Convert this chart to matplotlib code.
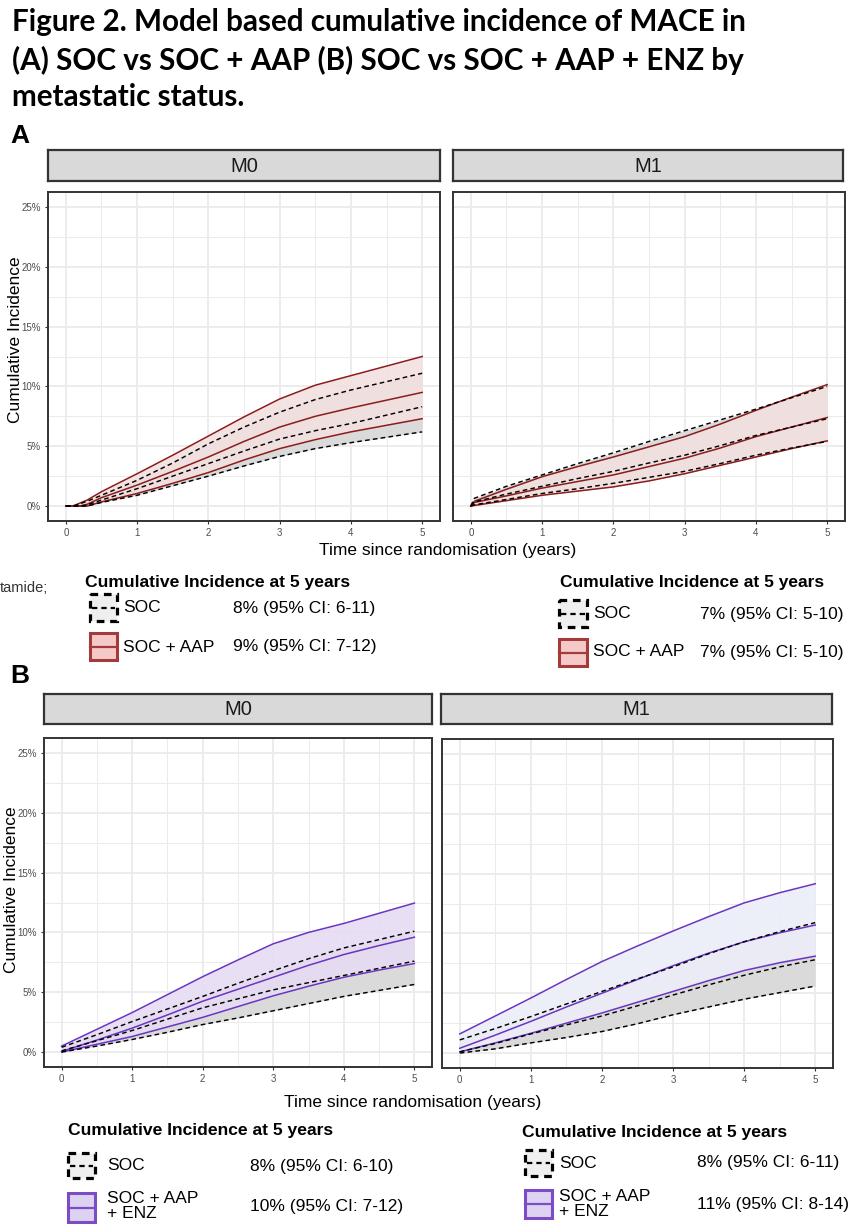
import matplotlib
matplotlib.use('Agg')
import matplotlib.pyplot as plt
from matplotlib.patches import Rectangle
from matplotlib import font_manager
import numpy as np

# ---------------- data ----------------
# Panel A, M0
a_m0_time = [0, 0.1, 0.2, 0.3, 0.5, 1, 1.5, 2, 2.5, 3, 3.5, 4, 4.5, 5]
a_m0_aap_hi = [0, 0, 0.25, 0.5, 1.2, 2.7, 4.25, 5.85, 7.45, 8.95, 10.1, 10.9, 11.7, 12.5]
a_m0_aap_mid = [0, 0, 0, 0.15, 0.7, 1.75, 2.9, 4.1, 5.4, 6.6, 7.5, 8.2, 8.85, 9.5]
a_m0_aap_lo = [0, 0, 0, 0, 0.35, 1.05, 1.9, 2.8, 3.85, 4.8, 5.55, 6.2, 6.75, 7.3]
a_m0_soc_hi = [0, 0, 0.2, 0.4, 0.9, 2.15, 3.6, 5.2, 6.6, 7.85, 8.9, 9.7, 10.4, 11.1]
a_m0_soc_mid = [0, 0, 0, 0.1, 0.5, 1.45, 2.5, 3.55, 4.6, 5.6, 6.3, 6.9, 7.6, 8.3]
a_m0_soc_lo = [0, 0, 0, 0, 0.3, 0.9, 1.7, 2.5, 3.35, 4.15, 4.8, 5.3, 5.75, 6.2]

# Panel A, M1
a_m1_time = [0, 0.05, 0.5, 1, 1.5, 2, 2.5, 3, 3.5, 4, 4.5, 5]
a_m1_aap_hi = [0, 0.4, 1.4, 2.45, 3.3, 4.1, 4.95, 5.8, 6.85, 8.0, 9.1, 10.15]
a_m1_aap_mid = [0, 0.3, 0.85, 1.5, 2.05, 2.6, 3.3, 4.0, 4.85, 5.8, 6.6, 7.4]
a_m1_aap_lo = [0, 0.05, 0.45, 0.9, 1.25, 1.6, 2.1, 2.7, 3.4, 4.1, 4.8, 5.45]
a_m1_soc_hi = [0, 0.65, 1.65, 2.6, 3.55, 4.45, 5.4, 6.3, 7.2, 8.1, 9.05, 10.0]
a_m1_soc_mid = [0, 0.35, 1.0, 1.65, 2.3, 2.9, 3.6, 4.25, 5.05, 5.9, 6.6, 7.3]
a_m1_soc_lo = [0, 0.1, 0.55, 1.05, 1.45, 1.9, 2.4, 2.9, 3.55, 4.25, 4.85, 5.4]

# Panel B, M0
b_m0_time = [0, 0.5, 1, 1.5, 2, 2.5, 3, 3.5, 4, 4.5, 5]
b_m0_enz_hi = [0.5, 1.9, 3.3, 4.8, 6.3, 7.7, 9.05, 10.0, 10.75, 11.6, 12.45]
b_m0_enz_mid = [0.05, 1.0, 2.0, 3.1, 4.25, 5.25, 6.25, 7.25, 8.15, 8.9, 9.6]
b_m0_enz_lo = [0, 0.65, 1.3, 2.1, 2.9, 3.8, 4.7, 5.5, 6.25, 6.85, 7.4]
b_m0_soc_hi = [0.4, 1.45, 2.55, 3.6, 4.65, 5.75, 6.8, 7.8, 8.7, 9.4, 10.1]
b_m0_soc_mid = [0.1, 0.95, 1.8, 2.75, 3.7, 4.45, 5.2, 5.8, 6.4, 7.0, 7.6]
b_m0_soc_lo = [0, 0.5, 1.05, 1.65, 2.3, 2.85, 3.45, 4.05, 4.65, 5.15, 5.65]

# Panel B, M1
b_m1_time = [0, 0.5, 1, 1.5, 2, 2.5, 3, 3.5, 4, 4.5, 5]
b_m1_enz_hi = [1.6, 3.1, 4.6, 6.15, 7.65, 8.95, 10.2, 11.4, 12.55, 13.4, 14.15]
b_m1_enz_mid = [0.4, 1.5, 2.65, 3.85, 5.0, 6.15, 7.3, 8.35, 9.3, 10.05, 10.7]
b_m1_enz_lo = [0.1, 0.85, 1.65, 2.5, 3.35, 4.25, 5.15, 6.05, 6.9, 7.55, 8.1]
b_m1_soc_hi = [1.1, 2.05, 3.05, 4.1, 5.15, 6.2, 7.2, 8.3, 9.3, 10.15, 10.9]
b_m1_soc_mid = [0.1, 0.8, 1.6, 2.35, 3.1, 3.95, 4.85, 5.7, 6.5, 7.2, 7.8]
b_m1_soc_lo = [0, 0.35, 0.85, 1.3, 1.8, 2.45, 3.2, 3.85, 4.5, 5.05, 5.6]

x_ticks = [0, 1, 2, 3, 4, 5]
y_ticks = [0, 5, 10, 15, 20, 25]
y_tick_labels = ['0%', '5%', '10%', '15%', '20%', '25%']
facets = ['M0', 'M1']

title_lines = ['Figure 2. Model based cumulative incidence of MACE in',
               '(A) SOC vs SOC + AAP (B) SOC vs SOC + AAP + ENZ by',
               'metastatic status.']
legend_title = 'Cumulative Incidence at 5 years'
a_labels = ['SOC', 'SOC + AAP']
a_m0_values = ['8% (95% CI: 6-11)', '9% (95% CI: 7-12)']
a_m1_values = ['7% (95% CI: 5-10)', '7% (95% CI: 5-10)']
b_labels = ['SOC', 'SOC + AAP\n+ ENZ']
b_m0_values = ['8% (95% CI: 6-10)', '10% (95% CI: 7-12)']
b_m1_values = ['8% (95% CI: 6-11)', '11% (95% CI: 8-14)']

# ---------------- styling ----------------
W, H = 859, 1229
fig = plt.figure(figsize=(W / 100, H / 100), dpi=100)
fig.patch.set_facecolor('white')


def has_font(name):
    try:
        font_manager.findfont(name, fallback_to_default=False)
        return True
    except Exception:
        return False


SANS = 'Liberation Sans'
NARROW = 'Liberation Sans Narrow' if has_font('Liberation Sans Narrow') else SANS
TITLE_FONT = 'Lato' if has_font('Lato') else 'DejaVu Sans'

RED = '#8b1c1c'
PURPLE = '#6a35c0'
GRID = '#ebebeb'
BORDER = '#333333'

renderer = fig.canvas.get_renderer()


def px_axes(l, t, r, b, **kw):
    return fig.add_axes([l / W, 1 - b / H, (r - l) / W, (b - t) / H], **kw)


def fit_width(txt, target):
    bb = txt.get_window_extent(renderer)
    txt.set_fontsize(txt.get_fontsize() * target / bb.width)


def panel(box, t, trt_hi, trt_mid, trt_lo, soc_hi, soc_mid, soc_lo,
          line_col, fill_col, fill_alpha, show_y):
    ax = px_axes(*box)
    ax.set_xlim(-0.25, 5.25)
    ax.set_ylim(-1.25, 26.25)
    ax.set_xticks(x_ticks)
    ax.set_xticklabels([str(v) for v in x_ticks])
    ax.set_yticks(y_ticks)
    ax.set_xticks(np.arange(0.5, 5, 1), minor=True)
    ax.set_yticks(np.arange(2.5, 25, 5), minor=True)
    ax.grid(which='major', color=GRID, lw=1.3)
    ax.grid(which='minor', color=GRID, lw=0.7)
    ax.set_axisbelow(True)
    ax.tick_params(which='minor', length=0)
    ax.tick_params(which='major', length=2.5, width=0.8, color=BORDER,
                   labelsize=7, labelcolor='#4d4d4d', pad=2.5)
    if show_y:
        ax.set_yticklabels(y_tick_labels)
    else:
        ax.set_yticklabels([])
        ax.tick_params(axis='y', length=0)
    for lab in ax.get_xticklabels() + ax.get_yticklabels():
        lab.set_family(NARROW)
    for s in ax.spines.values():
        s.set_color(BORDER)
        s.set_linewidth(1.4)
    ax.fill_between(t, soc_lo, soc_hi, color='#dadada', lw=0, zorder=1)
    ax.fill_between(t, trt_lo, trt_hi, color=fill_col, alpha=fill_alpha, lw=0, zorder=2)
    for yv in (trt_hi, trt_mid, trt_lo):
        ax.plot(t, yv, color=line_col, lw=1.1, zorder=3)
    for yv in (soc_hi, soc_mid, soc_lo):
        ax.plot(t, yv, color='black', lw=1.05, ls=(0, (3.2, 2.2)), zorder=4)
    return ax


def strip(box, label):
    ax = px_axes(*box)
    ax.set_facecolor('#d9d9d9')
    ax.set_xticks([])
    ax.set_yticks([])
    for s in ax.spines.values():
        s.set_color(BORDER)
        s.set_linewidth(1.6)
    ax.text(0.5, 0.48, label, ha='center', va='center', fontsize=14.5,
            family=NARROW, color='#1a1a1a', transform=ax.transAxes)


# Panel A
panel((48, 192, 440, 521), a_m0_time, a_m0_aap_hi, a_m0_aap_mid, a_m0_aap_lo,
      a_m0_soc_hi, a_m0_soc_mid, a_m0_soc_lo, RED, '#f3e0e0', 0.9, True)
panel((453, 192, 845, 521), a_m1_time, a_m1_aap_hi, a_m1_aap_mid, a_m1_aap_lo,
      a_m1_soc_hi, a_m1_soc_mid, a_m1_soc_lo, RED, '#f3e0e0', 0.9, False)
strip((48, 150, 440, 181), facets[0])
strip((453, 150, 843, 181), facets[1])

# Panel B
panel((44, 738, 432, 1067), b_m0_time, b_m0_enz_hi, b_m0_enz_mid, b_m0_enz_lo,
      b_m0_soc_hi, b_m0_soc_mid, b_m0_soc_lo, PURPLE, '#e6dcf3', 0.9, True)
panel((442, 739, 833, 1068), b_m1_time, b_m1_enz_hi, b_m1_enz_mid, b_m1_enz_lo,
      b_m1_soc_hi, b_m1_soc_mid, b_m1_soc_lo, PURPLE, '#eceef8', 0.9, False)
strip((44, 694, 432, 724), facets[0])
strip((441, 694, 832, 724), facets[1])

# ---------------- overlay text / legends ----------------
ov = fig.add_axes([0, 0, 1, 1], zorder=10)
ov.set_xlim(0, W)
ov.set_ylim(H, 0)
ov.axis('off')
ov.patch.set_alpha(0)

# title: one common size, chosen so the first two lines match the reference widths on average
title_targets = [756, 714]
title_texts = []
for line, yc in zip(title_lines, [22, 60, 97]):
    title_texts.append(ov.text(12, yc, line, ha='left', va='center', fontsize=18,
                               family=TITLE_FONT, weight='bold', color='black'))
scales = [tg / title_texts[i].get_window_extent(renderer).width
          for i, tg in enumerate(title_targets)]
title_size = 18 * float(np.mean(scales))
for tt in title_texts:
    tt.set_fontsize(title_size)

ov.text(10, 136, 'A', fontsize=19, weight='bold', family=SANS, ha='left', va='center')
ov.text(10, 676, 'B', fontsize=19, weight='bold', family=SANS, ha='left', va='center')

# axis titles
ov.text(16, 340, 'Cumulative Incidence', rotation=90, fontsize=12.5, family=SANS,
        ha='center', va='center')
ov.text(448, 550, 'Time since randomisation (years)', fontsize=12.5, family=SANS,
        ha='center', va='center')
ov.text(12, 890, 'Cumulative Incidence', rotation=90, fontsize=12.5, family=SANS,
        ha='center', va='center')
ov.text(413, 1102, 'Time since randomisation (years)', fontsize=12.5, family=SANS,
        ha='center', va='center')

ov.text(0, 588, 'tamide;', fontsize=10.5, family=NARROW, ha='left', va='center',
        color='#333333')


def soc_icon(x, y, w, h):
    ov.add_patch(Rectangle((x, y), w, h, facecolor='#efefef', edgecolor='black',
                           lw=2.3, ls=(0, (2.4, 1.8))))
    ov.plot([x + 2, x + w - 2], [y + h / 2, y + h / 2], color='black', lw=1.6,
            ls=(0, (2.4, 1.8)))


def trt_icon(x, y, w, h, face, edge):
    ov.add_patch(Rectangle((x, y), w, h, facecolor=face, edgecolor=edge, lw=2.2))
    ov.plot([x, x + w], [y + h / 2, y + h / 2], color=edge, lw=1.6)


def legend(tx, ty, title_w, rows, face, edge):
    tt = ov.text(tx, ty, legend_title, fontsize=12, family=NARROW, weight='bold',
                 ha='left', va='center')
    fit_width(tt, title_w)
    for kind, (ix, iy, iw, ih), (lx, ly), label, (vx, vy), val in rows:
        if kind == 'soc':
            soc_icon(ix, iy, iw, ih)
        else:
            trt_icon(ix, iy, iw, ih, face, edge)
        ov.text(lx, ly, label, fontsize=12.5, family=NARROW, ha='left', va='center',
                linespacing=0.95)
        ov.text(vx, vy, val, fontsize=12.5, family=NARROW, ha='left', va='center')


RED_FACE, RED_EDGE = '#f6c9c9', '#a33b3b'
PUR_FACE, PUR_EDGE = '#ddd2f1', '#7b4cc6'

legend(85, 583, 264, [
    ('soc', (90, 594, 27, 27), (123, 608), a_labels[0], (233, 608), a_m0_values[0]),
    ('trt', (90, 633, 27, 27), (123, 647), a_labels[1], (233, 647), a_m0_values[1]),
], RED_FACE, RED_EDGE)
legend(560, 583, 263, [
    ('soc', (559, 600, 28, 27), (593, 614), a_labels[0], (700, 614), a_m1_values[0]),
    ('trt', (559, 639, 28, 27), (593, 652), a_labels[1], (700, 652), a_m1_values[1]),
], RED_FACE, RED_EDGE)
legend(68, 1131, 264, [
    ('soc', (68, 1153, 27, 25), (107, 1166), b_labels[0], (250, 1166), b_m0_values[0]),
    ('trt', (68, 1193, 27, 29), (107, 1206), b_labels[1], (250, 1206), b_m0_values[1]),
], PUR_FACE, PUR_EDGE)
legend(522, 1133, 264, [
    ('soc', (525, 1150, 27, 26), (559, 1163), b_labels[0], (697, 1163), b_m1_values[0]),
    ('trt', (525, 1190, 27, 28), (559, 1204), b_labels[1], (697, 1204), b_m1_values[1]),
], PUR_FACE, PUR_EDGE)

fig.savefig('out.png', dpi=100, facecolor='white')
